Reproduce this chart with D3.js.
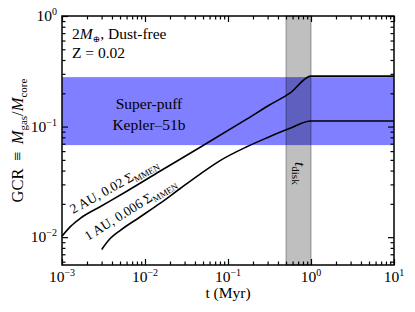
<!DOCTYPE html>
<html>
<head>
<meta charset="utf-8">
<script src="https://cdn.jsdelivr.net/npm/d3@7"></script>
<style>
  body { margin: 0; background: #fff; }
  svg { display: block; }
  text { font-family: "Liberation Serif", "DejaVu Serif", serif; fill: #000; }
</style>
</head>
<body>
<div id="chart"></div>
<script>
"use strict";

// 2 AU, 0.02 Sigma_MMEN track (t in Myr, GCR)
const time2AU = [0.001, 0.00126, 0.00166, 0.00288, 0.00603, 0.0151, 0.0457, 0.166, 0.316, 0.562, 1.0, 10];
const gcr2AU = [0.0102, 0.01245, 0.01479, 0.01884, 0.0260, 0.0394, 0.0646, 0.1161, 0.1567, 0.2018, 0.286, 0.286];

// 1 AU, 0.006 Sigma_MMEN track
const time1AU = [0.003006, 0.003784, 0.005012, 0.00871, 0.01514, 0.0263, 0.0457, 0.0794, 0.168, 0.292, 0.558, 1.0, 10];
const gcr1AU = [0.00774, 0.00966, 0.01148, 0.01521, 0.0202, 0.0274, 0.0370, 0.0490, 0.0656, 0.0789, 0.0964, 0.1122, 0.1122];

// Kepler-51b super-puff band and disk lifetime band
const superPuffGCR = [0.068, 0.28];
const diskTime = [0.5, 1.0];

const xTickExp = [-3, -2, -1, 0, 1];
const yTickExp = [-2, -1, 0];
const xDomain = [1e-3, 10];
const yDomain = [0.0056, 1];

const W = 415, H = 312;
const margin = { left: 62, right: 21, top: 16, bottom: 47 };
const iw = W - margin.left - margin.right;
const ih = H - margin.top - margin.bottom;

const svg = d3.select('#chart').append('svg')
  .attr('width', W)
  .attr('height', H);

const g = svg.append('g').attr('transform', `translate(${margin.left},${margin.top})`);

const x = d3.scaleLog().domain(xDomain).range([0, iw]);
const y = d3.scaleLog().domain(yDomain).range([ih, 0]);

// minor tick positions (2..9 in every decade inside the domain)
const minors = (dom) => {
  const out = [];
  for (let e = -3; e <= 1; e++) {
    for (let k = 2; k <= 9; k++) {
      const v = k * Math.pow(10, e);
      if (v >= dom[0] && v <= dom[1]) out.push(v);
    }
  }
  return out;
};
const xMajor = xTickExp.map(e => Math.pow(10, e));
const yMajor = yTickExp.map(e => Math.pow(10, e));

// bands
g.append('rect')
  .attr('x', 0)
  .attr('width', iw)
  .attr('y', y(superPuffGCR[1]))
  .attr('height', y(superPuffGCR[0]) - y(superPuffGCR[1]))
  .attr('fill', '#0000ff')
  .attr('fill-opacity', 0.5);

g.append('rect')
  .attr('x', x(diskTime[0]))
  .attr('width', x(diskTime[1]) - x(diskTime[0]))
  .attr('y', 0)
  .attr('height', ih)
  .attr('fill', '#000')
  .attr('fill-opacity', 0.25)
  .attr('stroke', '#000')
  .attr('stroke-opacity', 0.35)
  .attr('stroke-width', 1);

// curves
const line = d3.line()
  .x(d => x(d[0]))
  .y(d => y(d[1]))
  .curve(d3.curveMonotoneX);

const tracks = [d3.zip(time2AU, gcr2AU), d3.zip(time1AU, gcr1AU)];
g.selectAll('path.track')
  .data(tracks)
  .enter().append('path')
    .attr('class', 'track')
    .attr('d', line)
    .attr('fill', 'none')
    .attr('stroke', '#000')
    .attr('stroke-width', 1.6);

// axes: inward ticks on all four sides
const addTicks = (makeAxis, scale, tr, major, minor) => {
  const gm = g.append('g').attr('transform', tr)
    .call(makeAxis(scale).tickValues(major).tickSize(-6).tickFormat(''));
  const gn = g.append('g').attr('transform', tr)
    .call(makeAxis(scale).tickValues(minor).tickSize(-3.5).tickFormat(''));
  [gm, gn].forEach(s => {
    s.select('.domain').remove();
    s.selectAll('line').attr('stroke', '#000').attr('stroke-width', 1.2);
  });
};
addTicks(d3.axisBottom, x, `translate(0,${ih})`, xMajor, minors(xDomain));
addTicks(d3.axisTop, x, 'translate(0,0)', xMajor, minors(xDomain));
addTicks(d3.axisLeft, y, 'translate(0,0)', yMajor, minors(yDomain));
addTicks(d3.axisRight, y, `translate(${iw},0)`, yMajor, minors(yDomain));

g.append('rect')
  .attr('width', iw)
  .attr('height', ih)
  .attr('fill', 'none')
  .attr('stroke', '#000')
  .attr('stroke-width', 1.5);

// tick labels
const powLabel = (sel, e) => {
  sel.append('tspan').text('10');
  sel.append('tspan')
    .attr('font-size', 10)
    .attr('baseline-shift', 6.5)
    .text(e < 0 ? '\u2212' + (-e) : String(e));
};

xTickExp.forEach(e => {
  const t = g.append('text')
    .attr('x', x(Math.pow(10, e)))
    .attr('y', ih + 17)
    .attr('text-anchor', 'middle')
    .attr('font-size', 15.5);
  powLabel(t, e);
});

yTickExp.forEach(e => {
  const t = g.append('text')
    .attr('x', -5)
    .attr('y', y(Math.pow(10, e)) + 5)
    .attr('text-anchor', 'end')
    .attr('font-size', 15.5);
  powLabel(t, e);
});

// axis titles
g.append('text')
  .attr('x', iw / 2)
  .attr('y', ih + 33)
  .attr('text-anchor', 'middle')
  .attr('font-size', 15.5)
  .text('t (Myr)');

const yl = g.append('text')
  .attr('transform', `translate(${-39},${ih / 2}) rotate(-90)`)
  .attr('text-anchor', 'middle')
  .attr('font-size', 16.5);
yl.append('tspan').text('GCR \u2009\u2261\u2009 ');
yl.append('tspan').attr('font-style', 'italic').text('M');
yl.append('tspan').attr('font-size', 11).attr('baseline-shift', -3.5).text('gas');
yl.append('tspan').text('/');
yl.append('tspan').attr('font-style', 'italic').text('M');
yl.append('tspan').attr('font-size', 11).attr('baseline-shift', -3.5).text('core');

// annotations
const t1 = g.append('text').attr('x', 10).attr('y', 23).attr('font-size', 15.5);
t1.append('tspan').text('2');
t1.append('tspan').attr('font-style', 'italic').text('M');
t1.append('tspan').attr('font-size', 9).attr('baseline-shift', -2.5).text('\u2295');
t1.append('tspan').text(', Dust-free');

g.append('text').attr('x', 10).attr('y', 42).attr('font-size', 15.5).text('Z = 0.02');

g.append('text')
  .attr('x', 87).attr('y', 93)
  .attr('text-anchor', 'middle')
  .attr('font-size', 15.5)
  .text('Super-puff');
g.append('text')
  .attr('x', 87).attr('y', 114)
  .attr('text-anchor', 'middle')
  .attr('font-size', 15.5)
  .text('Kepler\u201351b');

const curveLabel = (px, py, ang, main) => {
  const t = g.append('text')
    .attr('transform', `translate(${px},${py}) rotate(${ang})`)
    .attr('font-size', 13.5);
  t.append('tspan').text(main);
  t.append('tspan').attr('font-size', 9).attr('baseline-shift', -3).text('MMEN');
};
curveLabel(11, 198, -29, '2 AU, 0.02 \u03a3');
curveLabel(26, 225, -32, '1 AU, 0.006 \u03a3');

const td = g.append('text')
  .attr('transform', `translate(${(x(diskTime[0]) + x(diskTime[1])) / 2 - 4},${146}) rotate(90)`)
  .attr('font-size', 15.5);
td.append('tspan').attr('font-style', 'italic').text('t');
td.append('tspan').attr('font-size', 11).attr('baseline-shift', -3).text('disk');
</script>
</body>
</html>
